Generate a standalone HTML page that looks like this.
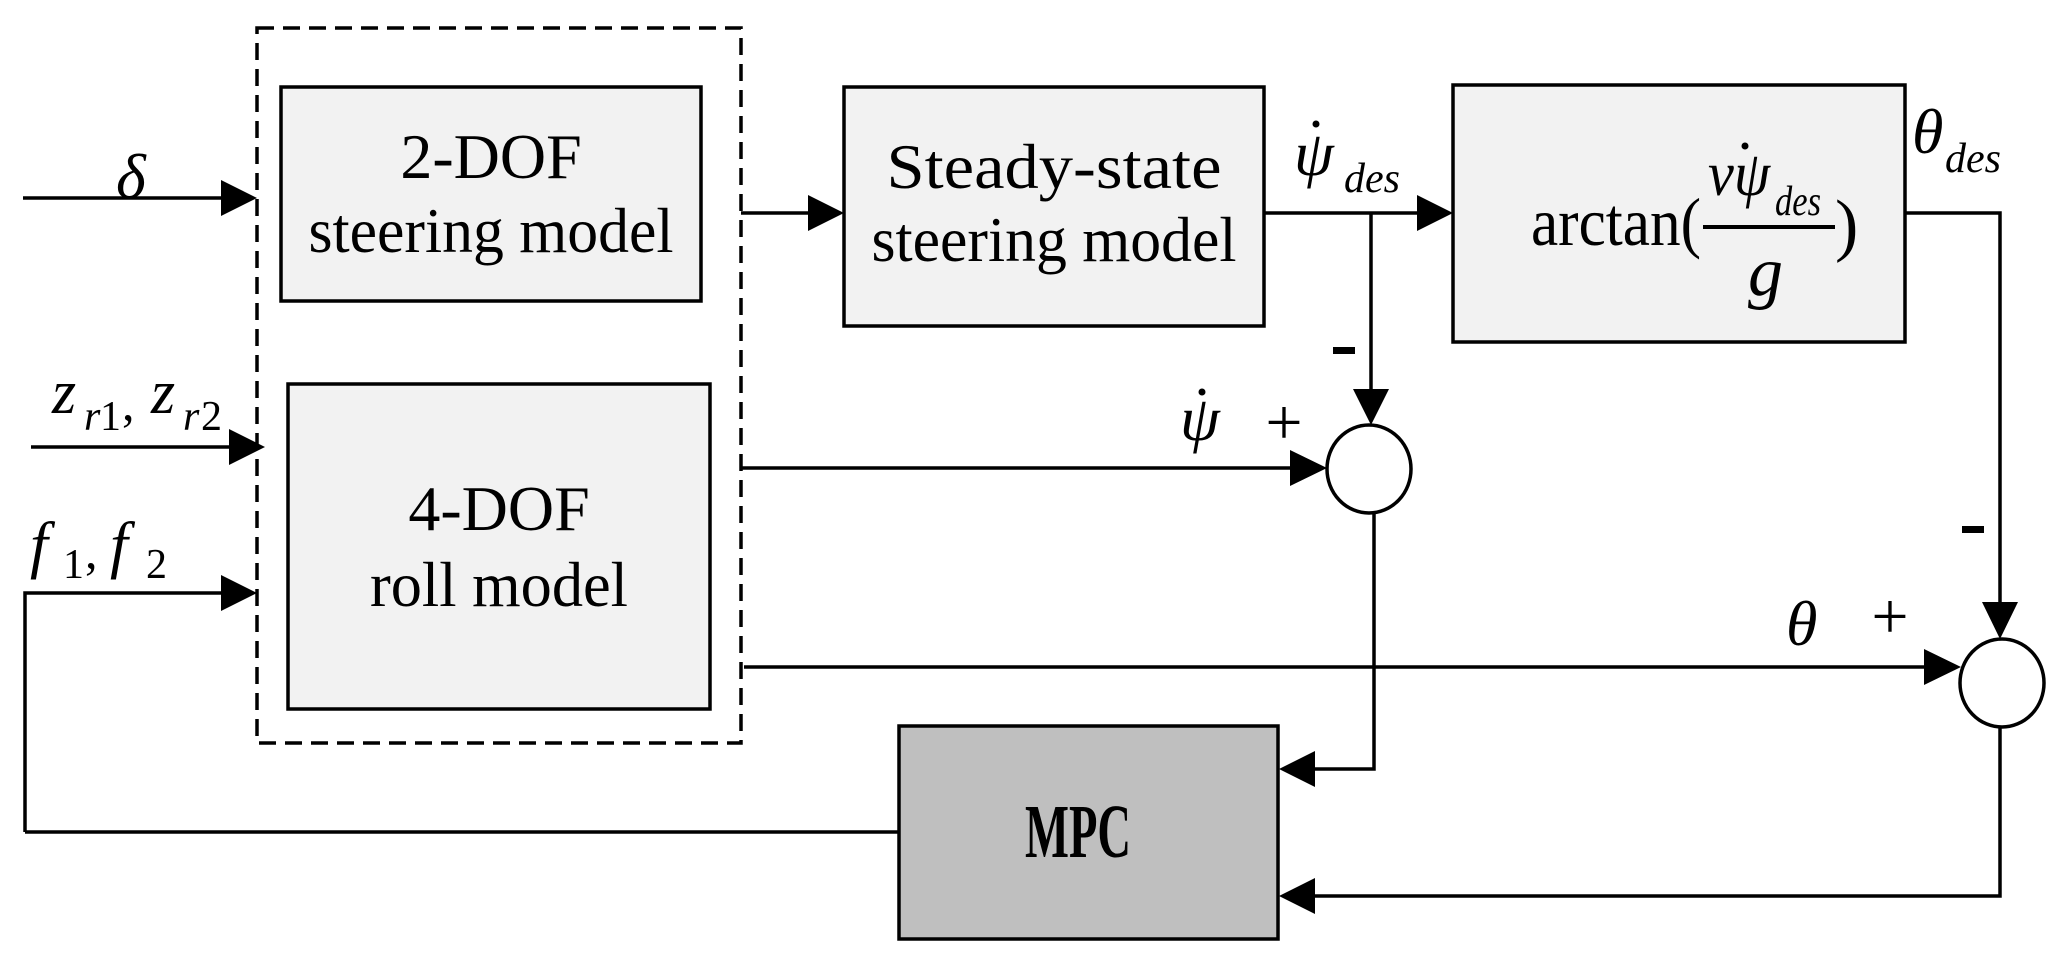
<!DOCTYPE html>
<html><head><meta charset="utf-8"><style>
html,body{margin:0;padding:0;background:#fff;}
svg{display:block;}
text{font-family:"Liberation Serif",serif;fill:#000;}
.it{font-style:italic;}
</style></head><body>
<svg width="2064" height="959" viewBox="0 0 2064 959" xmlns="http://www.w3.org/2000/svg">
<g stroke="#000" stroke-width="3.5" fill="none">
<rect x="257" y="28" width="484" height="715" stroke-dasharray="17,9"/>
<rect x="281" y="87" width="420" height="214" fill="#f2f2f2"/>
<rect x="288" y="384" width="422" height="325" fill="#f2f2f2"/>
<rect x="844" y="87" width="420" height="239" fill="#f2f2f2"/>
<rect x="1453" y="85" width="452" height="257" fill="#f2f2f2"/>
<rect x="899" y="726" width="379" height="213" fill="#bfbfbf"/>
<ellipse cx="1369" cy="469" rx="42" ry="44" fill="#fff"/>
<ellipse cx="2002" cy="683" rx="42" ry="44" fill="#fff"/>
<polyline points="23,198 225,198"/>
<polyline points="31,447 233,447"/>
<polyline points="25,832 25,593 225,593"/>
<polyline points="25,832 899,832"/>
<polyline points="741,213 812,213"/>
<polyline points="1264,213 1421,213"/>
<polyline points="1371,213 1371,395"/>
<polyline points="741,468 1294,468"/>
<polyline points="744,667 1928,667"/>
<polyline points="1905,213 2000,213 2000,608"/>
<polyline points="1374,513 1374,769 1310,769"/>
<polyline points="2000,727 2000,896 1310,896"/>
</g>
<g fill="#000">
<polygon points="221,180 257,198 221,216"/>
<polygon points="229,429 265,447 229,465"/>
<polygon points="221,575 257,593 221,611"/>
<polygon points="808,195 844,213 808,231"/>
<polygon points="1417,195 1453,213 1417,231"/>
<polygon points="1353,389 1371,425 1389,389"/>
<polygon points="1290,450 1327,468 1290,486"/>
<polygon points="1924,649 1961,667 1924,685"/>
<polygon points="1982,602 2000,639 2018,602"/>
<polygon points="1315,751 1279,769 1315,787"/>
<polygon points="1315,878 1279,896 1315,914"/>
<rect x="1333" y="347" width="22" height="7"/>
<rect x="1962" y="526" width="22" height="7"/>
</g>
<text x="491" y="178" font-size="64" text-anchor="middle">2-DOF</text>
<text x="491" y="252" font-size="64" text-anchor="middle" textLength="365" lengthAdjust="spacingAndGlyphs">steering model</text>
<text x="499" y="530" font-size="64" text-anchor="middle">4-DOF</text>
<text x="499" y="606" font-size="64" text-anchor="middle" textLength="258" lengthAdjust="spacingAndGlyphs">roll model</text>
<text x="1054" y="188" font-size="64" text-anchor="middle" textLength="335" lengthAdjust="spacingAndGlyphs">Steady-state</text>
<text x="1054" y="261" font-size="64" text-anchor="middle" textLength="365" lengthAdjust="spacingAndGlyphs">steering model</text>
<text x="1531" y="245" font-size="68" textLength="170" lengthAdjust="spacingAndGlyphs">arctan(</text>
<text x="1708" y="195" font-size="64" class="it" textLength="62" lengthAdjust="spacingAndGlyphs">vψ</text>
<circle cx="1745" cy="146" r="3.5" fill="#000"/>
<text x="1775" y="215" font-size="42" class="it" textLength="46" lengthAdjust="spacingAndGlyphs">des</text>
<line x1="1703" y1="227" x2="1835" y2="227" stroke="#000" stroke-width="4"/>
<text x="1748" y="295" font-size="70" class="it">g</text>
<text x="1835" y="248" font-size="70">)</text>
<text x="1078" y="857" font-size="76" font-weight="bold" text-anchor="middle" textLength="106" lengthAdjust="spacingAndGlyphs">MPC</text>
<text x="116" y="198" font-size="64" class="it">δ</text>
<text x="52" y="413" font-size="62" class="it">z</text>
<text x="84" y="430" font-size="42" class="it">r</text><text x="100" y="430" font-size="42">1</text>
<text x="122" y="420" font-size="50">,</text>
<text x="151" y="413" font-size="62" class="it">z</text>
<text x="183" y="430" font-size="42" class="it">r</text><text x="201" y="430" font-size="42">2</text>
<text x="30" y="566" font-size="64" class="it">f</text>
<text x="63" y="578" font-size="42">1</text>
<text x="85" y="568" font-size="50">,</text>
<text x="110" y="566" font-size="64" class="it">f</text>
<text x="146" y="578" font-size="42">2</text>
<text x="1294" y="175" font-size="64" class="it">ψ</text>
<circle cx="1316" cy="124" r="3.5" fill="#000"/>
<text x="1344" y="192" font-size="42" class="it">des</text>
<text x="1180" y="440" font-size="64" class="it">ψ</text>
<circle cx="1202" cy="392" r="3.5" fill="#000"/>
<text x="1284" y="444" font-size="66" text-anchor="middle">+</text>
<text x="1912" y="153" font-size="64" class="it">θ</text>
<text x="1945" y="172" font-size="42" class="it">des</text>
<text x="1786" y="645" font-size="64" class="it">θ</text>
<text x="1890" y="638" font-size="66" text-anchor="middle">+</text>
</svg>
</body></html>
